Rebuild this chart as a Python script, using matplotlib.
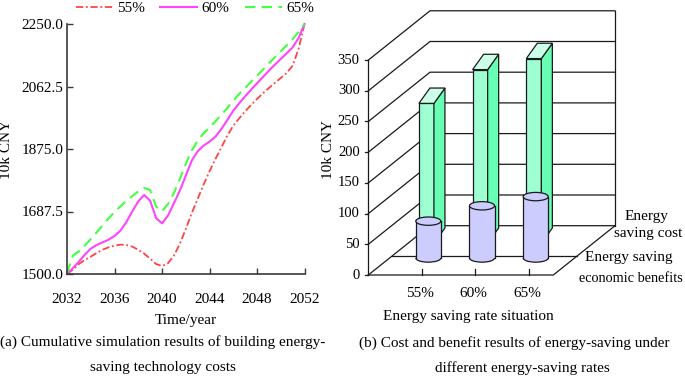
import matplotlib
matplotlib.use('Agg')
import matplotlib.pyplot as plt
from matplotlib.patches import Polygon, Rectangle, Ellipse, Arc
import numpy as np

plt.rcParams['font.family'] = ['Liberation Serif', 'DejaVu Serif']

# ---------------- data: panel (a) ----------------
years = np.arange(2032.0, 2052.01, 0.5)
cost_55 = [1500, 1513, 1530, 1542, 1552, 1563, 1573, 1580, 1585, 1588,
           1587, 1582, 1573, 1561, 1546, 1530, 1524, 1532, 1555, 1590,
           1635, 1682, 1725, 1768, 1808, 1845, 1880, 1915, 1945, 1967,
           1988, 2007, 2025, 2042, 2058, 2073, 2088, 2103, 2125, 2175, 2250]
cost_60 = [1500, 1518, 1537, 1558, 1576, 1587, 1595, 1603, 1614, 1630,
           1656, 1688, 1718, 1737, 1720, 1668, 1652, 1675, 1712, 1750,
           1795, 1840, 1868, 1885, 1897, 1912, 1935, 1962, 1990, 2012,
           2033, 2053, 2072, 2091, 2110, 2128, 2145, 2162, 2180, 2208, 2250]
cost_65 = [1502, 1555, 1568, 1585, 1605, 1625, 1646, 1667, 1686, 1703,
           1719, 1734, 1748, 1758, 1752, 1702, 1688, 1710, 1742, 1785,
           1830, 1870, 1900, 1922, 1940, 1958, 1978, 1998, 2020, 2040,
           2058, 2077, 2095, 2113, 2132, 2150, 2168, 2186, 2205, 2226, 2250]
series_labels = ['55%', '60%', '65%']
x_ticks_a = [2032, 2036, 2040, 2044, 2048, 2052]
y_ticks_a = [1500.0, 1687.5, 1875.0, 2062.5, 2250.0]

# ---------------- data: panel (b) ----------------
rates = ['55%', '60%', '65%']
saving_cost = [228, 283, 301]
economic_benefits = [60, 85, 100]
y_ticks_b = [0, 50, 100, 150, 200, 250, 300, 350]

FS = 11
fig = plt.figure(figsize=(6.85, 3.78), dpi=100)

# ================= panel (a) =================
ax1 = fig.add_axes([67/685, 1-274/378, 237.5/685, 250/378])
l1, = ax1.plot(years, cost_55, color='#ff4444', lw=1.3, dashes=(4, 1.5, 1, 1.5), clip_on=False)
l2, = ax1.plot(years, cost_60, color='#ff44ff', lw=1.5, clip_on=False)
l3, = ax1.plot(years, cost_65, color='#44ff44', lw=1.5, dashes=(5, 3), clip_on=False)
ax1.set_xlim(2032, 2052)
ax1.set_ylim(1500, 2250)
ax1.set_xticks(x_ticks_a)
ax1.set_yticks(y_ticks_a)
ax1.set_yticklabels(['%.1f' % v for v in y_ticks_a])
for s in ['top', 'right']:
    ax1.spines[s].set_visible(False)
for s in ['left', 'bottom']:
    ax1.spines[s].set_color('#3a3a3a')
    ax1.spines[s].set_linewidth(1.2)
ax1.tick_params(direction='in', length=4, width=1, color='#3a3a3a', labelsize=FS)
ax1.tick_params(axis='x', pad=13.5)
ax1.tick_params(axis='y', pad=2.7)
ax1.set_xlabel('Time/year', fontsize=FS)
ax1.xaxis.set_label_coords(0.5, (274-314)/250)
ax1.xaxis.label.set_va('top')
fig.text(7/685, 1-150/378, '10k CNY', rotation=90, ha='center', va='center', fontsize=FS)
fig.legend([l1, l2, l3], series_labels, loc='center', bbox_to_anchor=(195/685, 1-8.5/378),
           ncol=3, frameon=False, fontsize=FS, handlelength=2.4, handletextpad=0.3,
           columnspacing=1.0, borderaxespad=0, borderpad=0)
fig.text(163/685, 1-342/378, '(a) Cumulative simulation results of building energy-',
         ha='center', va='center', fontsize=FS)
fig.text(163/685, 1-367/378, 'saving technology costs', ha='center', va='center', fontsize=FS)

# ================= panel (b) =================
ax2 = fig.add_axes([340/685, 0, 345/685, 1])
ax2.set_xlim(-0.6443, 5.780)
ax2.set_ylim(-167.75, 447.88)
ax2.axis('off')

lc = '#1a1a1a'
lw = 0.9
XL, XR = -0.117, 3.328          # front floor edge (x units)
DX, DY = 1.149, 80.3            # full depth offset
MID_Z = 0.39
vmax = y_ticks_b[-1]
cat_x = np.arange(1, len(rates) + 1)

for v in y_ticks_b:
    ax2.plot([XL, XL + DX, XR + DX], [v, v + DY, v + DY], color=lc, lw=lw, zorder=1)
    ax2.plot([XL - 0.07, XL], [v, v], color=lc, lw=lw, zorder=1)
    ax2.text(XL - 0.16, v, str(v), ha='right', va='center', fontsize=10.5)
ax2.plot([XL, XL], [0, vmax], color=lc, lw=lw, zorder=1)
ax2.plot([XR + DX, XR + DX], [DY, vmax + DY], color=lc, lw=lw, zorder=1)
ax2.plot([XL, XR, XR + DX], [0, 0, DY], color=lc, lw=lw, zorder=1)
ax2.plot([XL + MID_Z*DX, XR + MID_Z*DX], [MID_Z*DY, MID_Z*DY], color=lc, lw=lw, zorder=1)

# category ticks / labels
TICK_SHIFT = -0.125
for cx, lab in zip(cat_x, rates):
    ax2.plot([cx + TICK_SHIFT]*2, [0, 9], color=lc, lw=lw, zorder=1)
    ax2.text(cx + TICK_SHIFT - 0.03, -30, lab, ha='center', va='center', fontsize=FS)
ax2.text(1.745, -67.6, 'Energy saving rate situation', ha='center', va='center', fontsize=FS)

# back row: energy saving cost (boxes)
BOX_W = 0.28
BOX_DX, BOX_DY = 0.205, 25.0
BACK_BASE = 51.5
BACK_SHIFT = -0.035
for cx, v in zip(cat_x, saving_cost):
    L = cx + BACK_SHIFT - BOX_W/2
    R = L + BOX_W
    b = BACK_BASE
    t = b + v
    ax2.add_patch(Polygon([(L, b), (R, b), (R, t), (L, t)], closed=True,
                          fc='#9dffd2', ec=lc, lw=lw, zorder=3))
    ax2.add_patch(Polygon([(R, b), (R + BOX_DX, b + BOX_DY), (R + BOX_DX, t + BOX_DY), (R, t)],
                          closed=True, fc='#66ffb4', ec=lc, lw=lw, zorder=3))
    ax2.add_patch(Polygon([(L, t), (R, t), (R + BOX_DX, t + BOX_DY), (L + BOX_DX, t + BOX_DY)],
                          closed=True, fc='#ccffe8', ec=lc, lw=lw, zorder=3))

# front row: economic benefits (cylinders)
RX, RY = 0.233, 6.8
FRONT_BASE = 27.7
cyl = '#ccccff'
for cx, v in zip(cat_x, economic_benefits):
    b = FRONT_BASE
    t = b + v
    ax2.add_patch(Ellipse((cx, b), 2*RX, 2*RY, fc=cyl, ec='none', zorder=5))
    ax2.add_patch(Rectangle((cx - RX, b), 2*RX, v, fc=cyl, ec='none', zorder=5))
    ax2.add_patch(Arc((cx, b), 2*RX, 2*RY, theta1=180, theta2=360, color=lc, lw=lw, zorder=6))
    ax2.plot([cx - RX, cx - RX], [b, t], color=lc, lw=lw, zorder=6)
    ax2.plot([cx + RX, cx + RX], [b, t], color=lc, lw=lw, zorder=6)
    ax2.add_patch(Ellipse((cx, t), 2*RX, 2*RY, fc=cyl, ec=lc, lw=lw, zorder=7))

# depth (series) labels
ax2.text(5.063, 95, 'Energy', ha='center', va='center', fontsize=FS)
ax2.text(5.10, 68.4, 'saving cost', ha='center', va='center', fontsize=FS)
ax2.text(4.73, 27.7, 'Energy saving', ha='center', va='center', fontsize=FS)
ax2.text(4.77, -6.5, 'economic benefits', ha='center', va='center', fontsize=10.3)

fig.text(328/685, 1-150/378, '10k CNY', rotation=90, ha='center', va='center', fontsize=FS)
fig.text(514/685, 1-343/378, '(b) Cost and benefit results of energy-saving under',
         ha='center', va='center', fontsize=FS)
fig.text(522/685, 1-368/378, 'different energy-saving rates', ha='center', va='center', fontsize=FS)

fig.savefig('out.png', dpi=100)
